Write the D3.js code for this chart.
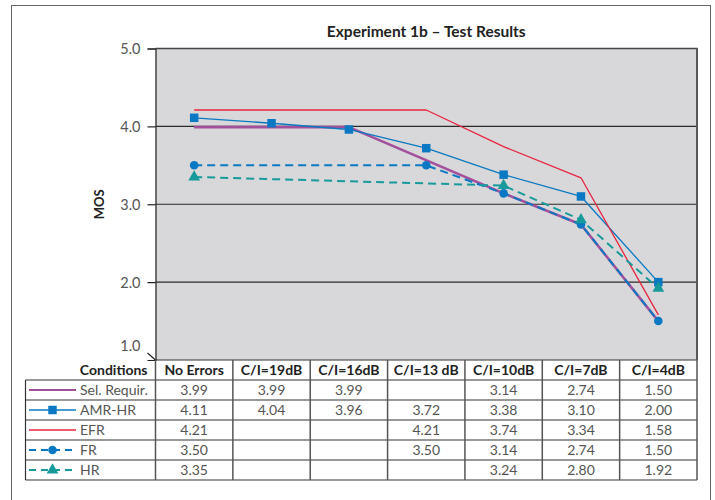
<!DOCTYPE html>
<html>
<head>
<meta charset="utf-8">
<script src="https://cdn.jsdelivr.net/npm/d3@7"></script>
<style>
  html, body { margin: 0; padding: 0; background: #fff; }
  svg { display: block; font-family: Lato, "Liberation Sans", sans-serif; }
</style>
</head>
<body>
<svg id="chart" width="715" height="500"></svg>
<script>
// Experiment 1b – MOS by channel condition
const conditions = ["No Errors", "C/I=19dB", "C/I=16dB", "C/I=13 dB", "C/I=10dB", "C/I=7dB", "C/I=4dB"];
const seriesNames = ["Sel. Requir.", "AMR-HR", "EFR", "FR", "HR"];
const selRequir = [3.99, 3.99, 3.99, null, 3.14, 2.74, 1.50];
const amrHr     = [4.11, 4.04, 3.96, 3.72, 3.38, 3.10, 2.00];
const efr       = [4.21, null, null, 4.21, 3.74, 3.34, 1.58];
const fr        = [3.50, null, null, 3.50, 3.14, 2.74, 1.50];
const hr        = [3.35, null, null, null, 3.24, 2.80, 1.92];
const yTicks    = [1.0, 2.0, 3.0, 4.0, 5.0];

const seriesValues = [selRequir, amrHr, efr, fr, hr];
const styles = [
  { color: "#a24f9c", width: 2.6, dash: null, marker: null },
  { color: "#0a78c2", width: 1.3, dash: null, marker: "square" },
  { color: "#e8243e", width: 1.3, dash: null, marker: null },
  { color: "#0a78c2", width: 2, dash: "8,5", marker: "circle" },
  { color: "#179a9c", width: 2, dash: "8,5", marker: "triangle" }
];

const svg = d3.select("#chart");
const plot = { left: 155.5, right: 697, top: 48.5, bottom: 360 };
const rowH = 20;

// outer frame
svg.append("rect").attr("x", 11.5).attr("y", 5.5).attr("width", 699).attr("height", 520)
  .attr("fill", "none").attr("stroke", "#666").attr("stroke-width", 1);

const x = d3.scaleBand().domain(conditions).range([plot.left, plot.right]);
const y = d3.scaleLinear().domain([1, 5]).range([plot.bottom, plot.top]);

// plot background
svg.append("rect").attr("x", plot.left).attr("y", plot.top)
  .attr("width", plot.right - plot.left).attr("height", plot.bottom - plot.top)
  .attr("fill", "#d8d8da");

// gridlines
svg.append("g").selectAll("line").data(yTicks.filter(t => t > 1 && t < 5)).join("line")
  .attr("x1", plot.left).attr("x2", plot.right)
  .attr("y1", d => y(d)).attr("y2", d => y(d))
  .attr("stroke", "#2a2a2a").attr("stroke-width", 1.2);

// top and right border of plot
svg.append("path")
  .attr("d", `M${plot.left},${plot.top}H${plot.right}V${plot.bottom}`)
  .attr("fill", "none").attr("stroke", "#444").attr("stroke-width", 1.5);

// y axis
const yAxis = d3.axisLeft(y).tickValues(yTicks.filter(t => t > 1)).tickSize(8).tickFormat(d3.format(".1f"));
const ya = svg.append("g").attr("transform", `translate(${plot.left},0)`).call(yAxis);
ya.select(".domain").attr("stroke", "#222").attr("stroke-width", 1.2);
ya.selectAll(".tick line").attr("stroke", "#222").attr("stroke-width", 1.2);
ya.selectAll(".tick text").attr("x", -15).attr("dy", "0.35em").attr("fill", "#555")
  .style("font-size", "14.5px").style("font-family", "Lato, 'Liberation Sans', sans-serif");
// the 1.0 tick is slanted
svg.append("line").attr("x1", plot.left - 8).attr("y1", y(1) - 7).attr("x2", plot.left).attr("y2", y(1))
  .attr("stroke", "#222").attr("stroke-width", 1.2);
svg.append("text").attr("x", plot.left - 15).attr("y", y(1) - 9).attr("text-anchor", "end")
  .attr("fill", "#555").style("font-size", "14.5px").text(d3.format(".1f")(1));

// axis title
svg.append("text").attr("transform", `translate(104,${y(3)}) rotate(-90)`)
  .attr("text-anchor", "middle").attr("font-weight", "bold").attr("fill", "#222")
  .style("font-size", "13px").text("MOS");

// chart title
svg.append("text").attr("x", (plot.left + plot.right) / 2).attr("y", 37)
  .attr("text-anchor", "middle").attr("font-weight", "bold").attr("fill", "#222")
  .style("font-size", "15.5px").text("Experiment 1b – Test Results");

// series lines and markers
const cx = c => x(c) + x.bandwidth() / 2;
const lineGen = d3.line().x(d => cx(d.c)).y(d => y(d.v));
const symbolType = { square: d3.symbolSquare, circle: d3.symbolCircle, triangle: d3.symbolTriangle };
const symbolSize = { square: 72, circle: 58, triangle: 60 };

seriesValues.forEach((vals, i) => {
  const st = styles[i];
  const pts = vals.map((v, j) => ({ c: conditions[j], v })).filter(d => d.v !== null);
  svg.append("path").datum(pts).attr("d", lineGen)
    .attr("fill", "none").attr("stroke", st.color).attr("stroke-width", st.width)
    .attr("stroke-dasharray", st.dash).attr("stroke-linejoin", "round");
  if (st.marker) {
    svg.append("g").selectAll("path").data(pts).join("path")
      .attr("transform", d => `translate(${cx(d.c)},${y(d.v)})`)
      .attr("d", d3.symbol(symbolType[st.marker], symbolSize[st.marker]))
      .attr("fill", st.color);
  }
});

// data table
const tableLeft = 25.5;
const tableTop = plot.bottom;
const tbl = svg.append("g").style("font-size", "14px");

// header row
tbl.append("text").attr("x", plot.left - 8).attr("y", tableTop + 15).attr("text-anchor", "end")
  .attr("font-weight", "bold").attr("fill", "#222").text("Conditions");
tbl.selectAll("text.hdr").data(conditions).join("text").attr("class", "hdr")
  .attr("x", d => cx(d)).attr("y", tableTop + 15).attr("text-anchor", "middle")
  .attr("font-weight", "bold").attr("fill", "#222").text(d => d);

// grid: horizontal lines
const nRows = seriesNames.length;
for (let r = 0; r <= nRows + 1; r++) {
  const yy = tableTop + r * rowH;
  tbl.append("line")
    .attr("x1", r === 0 ? plot.left : tableLeft).attr("x2", plot.right)
    .attr("y1", yy).attr("y2", yy).attr("stroke", "#333").attr("stroke-width", 1.2);
}
// grid: vertical lines
tbl.append("line").attr("x1", tableLeft).attr("x2", tableLeft)
  .attr("y1", tableTop + rowH).attr("y2", tableTop + (nRows + 1) * rowH)
  .attr("stroke", "#333").attr("stroke-width", 1.2);
conditions.forEach(c => {
  tbl.append("line").attr("x1", x(c)).attr("x2", x(c))
    .attr("y1", tableTop).attr("y2", tableTop + (nRows + 1) * rowH)
    .attr("stroke", "#555").attr("stroke-width", 1.5);
});
tbl.append("line").attr("x1", plot.right).attr("x2", plot.right)
  .attr("y1", plot.top).attr("y2", tableTop + (nRows + 1) * rowH)
  .attr("stroke", "#555").attr("stroke-width", 1.5);

// rows: legend key + values
seriesNames.forEach((name, i) => {
  const st = styles[i];
  const rowMid = tableTop + (i + 1) * rowH + rowH / 2;
  tbl.append("line").attr("x1", 29).attr("x2", 76).attr("y1", rowMid).attr("y2", rowMid)
    .attr("stroke", st.color).attr("stroke-width", st.width === 2.6 ? 2.2 : (st.dash ? 2 : 1.3))
    .attr("stroke-dasharray", st.dash ? "7,5" : null);
  if (st.marker) {
    tbl.append("path").attr("transform", `translate(52.5,${rowMid})`)
      .attr("d", d3.symbol(symbolType[st.marker], symbolSize[st.marker]))
      .attr("fill", st.color);
  }
  tbl.append("text").attr("x", 80).attr("y", rowMid + 5).attr("fill", "#555").text(name);
  seriesValues[i].forEach((v, j) => {
    if (v === null) return;
    tbl.append("text").attr("x", cx(conditions[j])).attr("y", rowMid + 5)
      .attr("text-anchor", "middle").attr("fill", "#555").text(d3.format(".2f")(v));
  });
});
</script>
</body>
</html>
